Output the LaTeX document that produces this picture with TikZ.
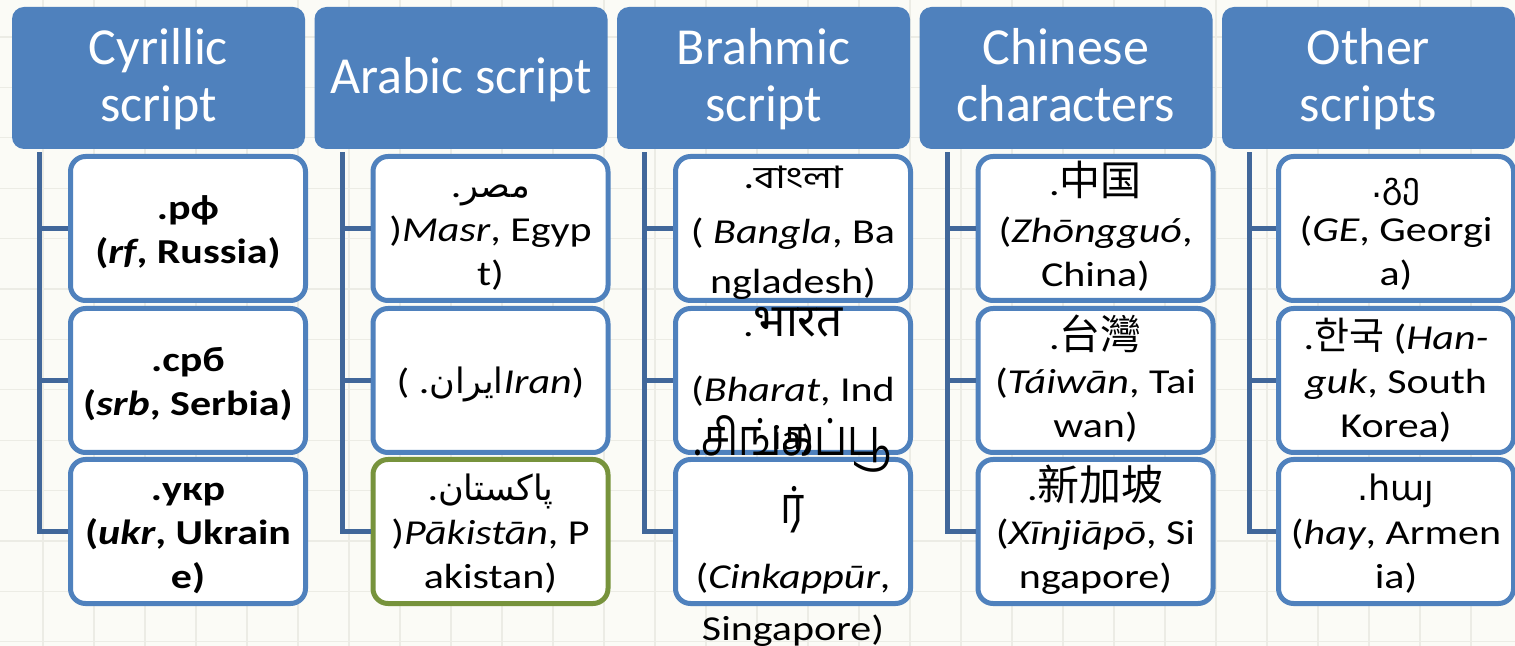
\documentclass[tikz,border=0pt]{standalone}
\usepackage{fontspec}
\setmainfont{Carlito}
\newfontfamily\cellfam{Carlito}[FakeStretch=1.2]
\newfontfamily\arabicfont[Script=Arabic]{DejaVu Sans}
\newfontfamily\bengalifont[Script=Bengali,FakeStretch=1.3]{Hind Siliguri}
\newfontfamily\devafont[Script=Devanagari]{Noto Sans}
\newfontfamily\tamilfont[Script=Tamil,FakeStretch=0.82]{Hind Madurai}
\newfontfamily\cjksc{Noto Sans CJK SC}
\newfontfamily\cjktc{Noto Sans CJK TC}
\newfontfamily\cjkkr{Noto Sans CJK KR}
\newfontfamily\dvsans{DejaVu Sans}
\TeXXeTstate=1
\definecolor{hdrblue}{HTML}{4F81BD}
\definecolor{cellblue}{HTML}{4F81BD}
\definecolor{connblue}{HTML}{41679A}
\definecolor{okgreen}{HTML}{77933C}
\definecolor{bgpaper}{HTML}{FBFBF6}
\definecolor{gridline}{HTML}{ECECE5}
\newcommand\hdrfont{\fontsize{26}{28.5}\selectfont}
\newcommand\hstrut{\rule{0pt}{24pt}}
\newcommand\cellfont{\cellfam\fontsize{17.5}{22}\selectfont}
\newcommand\rw[1]{\smash{#1}}
\newcommand\cellbox[2][-6.4pt]{\smash{\raisebox{#1}{\begin{tabular}{@{}c@{}}#2\end{tabular}}}}
\newcommand\cjkbig[2]{{#1\fontsize{20.5}{22}\selectfont #2}}
\begin{document}
\begin{tikzpicture}[x=0.5pt,y=-0.5pt,
  hdr/.style={fill=hdrblue, rounded corners=6pt, minimum width=146.5pt, minimum height=71pt, inner sep=0pt, text=white, align=center, font=\hdrfont},
  cellnode/.style={draw=cellblue, line width=2.5pt, fill=white, rounded corners=7.5pt, minimum width=117.5pt, minimum height=72pt, inner sep=0pt, font=\cellfont},
  greencell/.style={cellnode, draw=okgreen},
  conn/.style={draw=connblue, line width=2.5pt}]
\useasboundingbox (0,0) rectangle (1515,646);
\fill[bgpaper] (0,0) rectangle (1515,646);
\foreach \gx in {43,94,...,1515} \draw[gridline, line width=0.6pt] (\gx,0) -- (\gx,646);
\foreach \gy in {37,87.4,...,646} \draw[gridline, line width=0.6pt] (0,\gy) -- (1515,\gy);

% headers
\node[hdr] (h1) at (158.5,78) {\hstrut Cyrillic\strut\\script\strut};
\node[hdr] (h2) at (461,78) {\hstrut Arabic script\strut};
\node[hdr] (h3) at (763.5,78) {\hstrut Brahmic\strut\\script\strut};
\node[hdr] (h4) at (1066,78) {\hstrut Chinese\strut\\characters\strut};
\node[hdr] (h5) at (1368.5,78) {\hstrut Other\strut\\scripts\strut};

% column 1
\node[cellnode, font=\cellfont\bfseries] (c11) at (188,228.5) {\cellbox{\rw{.рф}\\\rw{(\textit{rf}, Russia)}}};
\node[cellnode, font=\cellfont\bfseries] (c12) at (188,380.5) {\cellbox{\rw{.срб}\\\rw{(\textit{srb}, Serbia)}}};
\node[cellnode, font=\cellfont\bfseries] (c13) at (188,531.5) {\cellbox{\rw{.укр}\\\rw{(\textit{ukr}, Ukrain}\\\rw{e)}}};

% column 2
\node[cellnode] (c21) at (490.5,228.5) {\cellbox{\rw{.{\arabicfont\beginR مصر\endR}}\\\rw{)\textit{Masr}, Egyp}\\\rw{t)}}};
\node[cellnode] (c22) at (490.5,380.5) {\cellbox{\rw{( .{\arabicfont\beginR ایران\endR}\textit{Iran})}}};
\node[greencell] (c23) at (490.5,531.5) {\cellbox{\rw{.{\arabicfont\beginR پاکستان\endR}}\\\rw{)\textit{Pākistān}, P}\\\rw{akistan)}}};

% column 3
\node[cellnode] (c31) at (793,228.5) {\cellbox{\rw{.{\bengalifont\fontsize{15.5}{22}\selectfont বাংলা}}\\[5.5pt]\rw{( \textit{Bangla}, Ba}\\[3pt]\rw{ngladesh)}}};
\node[cellnode] (c32) at (793,380.5) {\cellbox{\rw{.{\devafont\fontsize{23}{22}\selectfont भारत}}\\[10.5pt]\rw{(\textit{Bharat}, Ind}\\[2pt]\rw{ia)}}};
\node[cellnode] (c33) at (793,531.5) {\cellbox[-8.4pt]{\rw{{\tamilfont\fontsize{25.5}{22}\selectfont .சிங்கப்பூ}}\\[12pt]\rw{{\tamilfont\fontsize{25.5}{22}\selectfont ர்}}\\[10.5pt]\rw{(\textit{Cinkappūr},}\\[4pt]\rw{Singapore)}}};

% column 4
\node[cellnode] (c41) at (1095.5,228.5) {\cellbox{\rw{.\cjkbig{\cjksc}{中国}}\\[1.5pt]\rw{(\textit{Zhōngguó},}\\\rw{China)}}};
\node[cellnode] (c42) at (1095.5,380.5) {\cellbox{\rw{.\cjkbig{\cjktc}{台灣}}\\\rw{(\textit{Táiwān}, Tai}\\\rw{wan)}}};
\node[cellnode] (c43) at (1095.5,531.5) {\cellbox{\rw{.{\cjksc\fontsize{21}{22}\selectfont 新加坡}}\\\rw{(\textit{Xīnjiāpō}, Si}\\\rw{ngapore)}}};

% column 5
\node[cellnode] (c51) at (1396,228.5) {\cellbox{\rw{{\dvsans .გე}}\\\rw{(\textit{GE}, Georgi}\\\rw{a)}}};
\node[cellnode] (c52) at (1396,380.5) {\cellbox{\rw{.{\cjkkr\fontsize{19}{22}\selectfont 한국} (\textit{Han-}}\\\rw{\textit{guk}, South}\\\rw{Korea)}}};
\node[cellnode] (c53) at (1396,531.5) {\cellbox{\rw{{\dvsans .հայ}}\\\rw{(\textit{hay}, Armen}\\\rw{ia)}}};

% connectors
\foreach \h/\a/\b/\c in {h1/c11/c12/c13, h2/c21/c22/c23, h3/c31/c32/c33, h4/c41/c42/c43, h5/c51/c52/c53}{
  \draw[conn] ([xshift=14pt,yshift=-1.5pt]\h.south west) |- (\c.west);
  \draw[conn] ([xshift=14pt,yshift=-1.5pt]\h.south west) |- (\a.west);
  \draw[conn] ([xshift=14pt,yshift=-1.5pt]\h.south west) |- (\b.west);
}
\end{tikzpicture}
\end{document}
